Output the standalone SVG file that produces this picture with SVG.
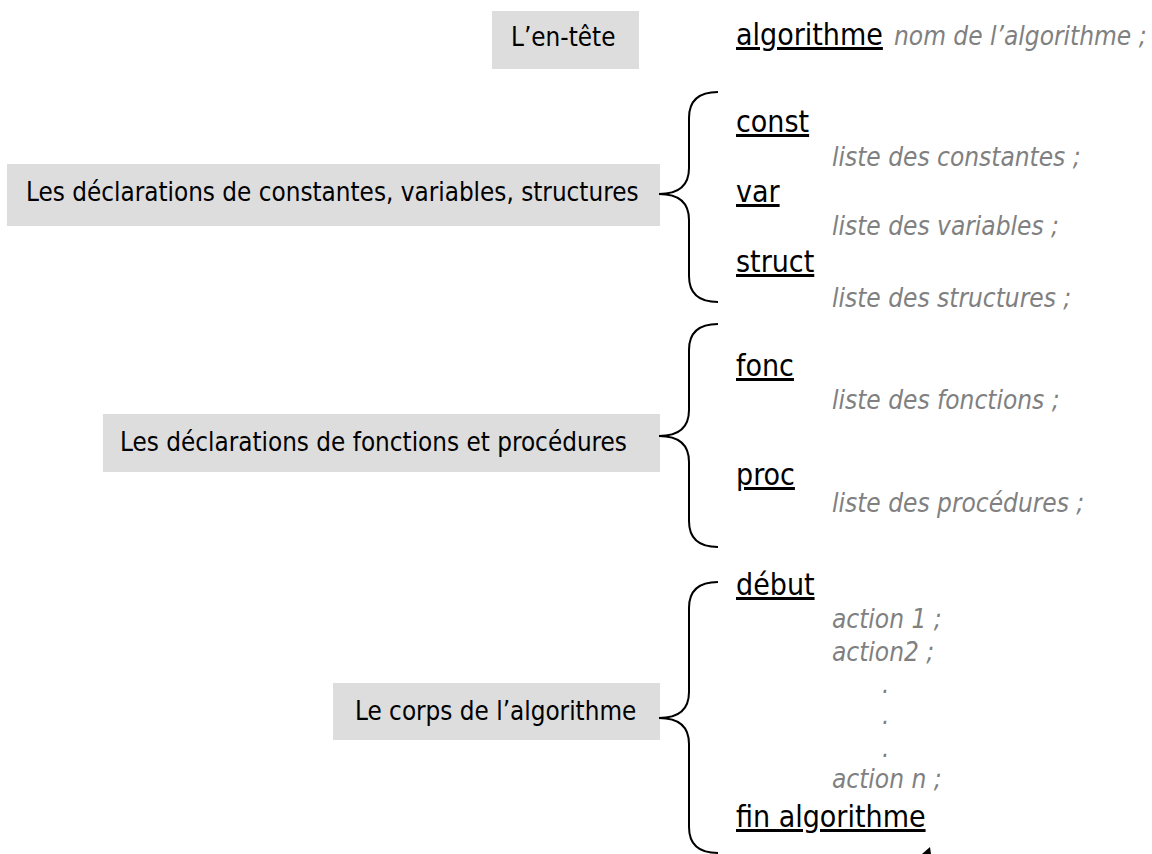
<svg xmlns="http://www.w3.org/2000/svg" width="1152" height="854" viewBox="0 0 1152 854">
  <style>
    .box { fill: #dddddd; }
    .lbl { font-family: "DejaVu Sans Condensed", "DejaVu Sans", sans-serif; font-size: 25.8px; fill: #000; }
    .kw { font-family: "DejaVu Sans Condensed", "DejaVu Sans", sans-serif; font-size: 30px; fill: #000; text-decoration: underline; }
    .it { font-family: "DejaVu Sans Condensed", "DejaVu Sans", sans-serif; font-size: 26px; font-style: italic; fill: #808080; }
    .brace { fill: none; stroke: #000; stroke-width: 2; }
  </style>

  <!-- section labels -->
  <g id="label-entete">
    <rect class="box" x="492" y="11" width="147" height="58"/>
    <text class="lbl" x="511" y="46">L’en-tête</text>
  </g>
  <g id="label-declarations">
    <rect class="box" x="7" y="164" width="653" height="62"/>
    <text class="lbl" x="26" y="201">Les déclarations de constantes, variables, structures</text>
  </g>
  <g id="label-sousprogrammes">
    <rect class="box" x="103" y="414" width="557" height="58"/>
    <text class="lbl" x="120" y="451">Les déclarations de fonctions et procédures</text>
  </g>
  <g id="label-corps">
    <rect class="box" x="333" y="683" width="327" height="57"/>
    <text class="lbl" x="355" y="720">Le corps de l’algorithme</text>
  </g>

  <!-- braces joining each label to its block of code -->
  <g id="connectors">
    <path class="brace" d="M718,92 C700,92 689,100 689,118 L689,168 C689,184 680,194 659,194 C680,194 689,204 689,220 L689,276 C689,294 700,302 718,302"/>
    <path class="brace" d="M718,324 C700,324 689,332 689,350 L689,410 C689,426 680,436 659,436 C680,436 689,446 689,462 L689,521 C689,539 700,547 718,547"/>
    <path class="brace" d="M718,582 C700,582 689,590 689,608 L689,692 C689,708 680,718 659,718 C680,718 689,728 689,744 L689,827 C689,845 700,853 718,853"/>
    <polygon points="922,854 930,847 931,854" fill="#000"/>
  </g>

  <!-- code skeleton -->
  <g id="entete">
    <text class="kw" x="736" y="45">algorithme</text>
    <text class="it" x="894" y="45">nom de l’algorithme ;</text>
  </g>
  <g id="declarations">
    <text class="kw" x="736" y="132">const</text>
    <text class="it" x="832" y="166">liste des constantes ;</text>
    <text class="kw" x="736" y="202">var</text>
    <text class="it" x="832" y="235">liste des variables ;</text>
    <text class="kw" x="736" y="272">struct</text>
    <text class="it" x="832" y="307">liste des structures ;</text>
  </g>
  <g id="sousprogrammes">
    <text class="kw" x="736" y="376">fonc</text>
    <text class="it" x="832" y="409">liste des fonctions ;</text>
    <text class="kw" x="736" y="485">proc</text>
    <text class="it" x="832" y="512">liste des procédures ;</text>
  </g>
  <g id="corps">
    <text class="kw" x="736" y="595">début</text>
    <text class="it" x="832" y="628">action 1 ;</text>
    <text class="it" x="832" y="661">action2 ;</text>
    <text class="it" x="882" y="693">.</text>
    <text class="it" x="882" y="724">.</text>
    <text class="it" x="882" y="757">.</text>
    <text class="it" x="832" y="788">action n ;</text>
    <text class="kw" x="736" y="827">fin algorithme</text>
  </g>
</svg>
